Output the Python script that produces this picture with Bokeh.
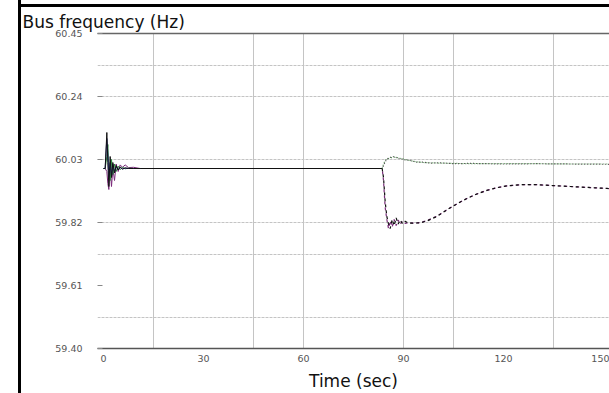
from bokeh.plotting import figure
from bokeh.models import LinearAxis, FixedTicker, Title, Range1d, PrintfTickFormatter
from bokeh.embed import file_html
from bokeh.resources import INLINE

# ---- data ----
x_ticks = [0, 30, 60, 90, 120, 150]
y_ticks = [59.40, 59.61, 59.82, 60.03, 60.24, 60.45]
x_grid = [15, 45, 60, 90, 105, 135]
y_grid = [59.505, 59.715, 59.82, 60.03, 60.24, 60.345]

# initial disturbance and steady period (sec)
t_init = [0, 0.5, 1.0, 1.3, 1.6, 2.0, 2.4, 2.8, 3.3, 3.8, 4.4, 5.0, 5.7, 6.5, 7.5, 9, 11, 83.6]
f_black_init = [60.00, 60.00, 60.12, 60.02, 59.94, 60.04, 59.97, 60.02, 59.985, 60.01, 59.995, 60.005, 59.998, 60.002, 60.0, 60.0, 60.0, 60.0]
f_green_init = [60.00, 60.00, 60.04, 60.08, 60.00, 59.96, 60.03, 59.98, 60.015, 59.99, 60.008, 59.996, 60.004, 59.999, 60.001, 60.0, 60.0, 60.0]
f_purple_init = [60.00, 60.00, 59.99, 59.95, 59.93, 60.0, 59.94, 60.0, 59.96, 60.015, 59.99, 60.012, 60.004, 60.012, 60.003, 60.004, 60.0, 60.0]
f_blue_init = [60.00, 60.00, 60.10, 60.05, 59.97, 60.02, 59.975, 60.015, 59.99, 60.005, 59.997, 60.003, 59.999, 60.001, 60.0, 60.0, 60.0, 60.0]

# second disturbance: lower branch
t_low = [83.6, 84.0, 84.5, 85.0, 85.5, 86.0, 86.6, 87.2, 87.8, 88.4, 89.0, 89.7, 90.5, 91.5, 93, 95, 97, 100, 103, 106, 109, 112, 115, 118, 121, 125, 130, 135, 140, 145, 152]
f_black_low = [60.00, 59.97, 59.89, 59.84, 59.815, 59.80, 59.83, 59.81, 59.835, 59.815, 59.828, 59.816, 59.824, 59.818, 59.818, 59.819, 59.825, 59.840, 59.862, 59.882, 59.900, 59.915, 59.927, 59.936, 59.942, 59.946, 59.946, 59.943, 59.940, 59.937, 59.933]
f_purple_low = [60.00, 59.96, 59.87, 59.83, 59.80, 59.825, 59.805, 59.83, 59.81, 59.828, 59.815, 59.824, 59.817, 59.819, 59.818, 59.820, 59.826, 59.841, 59.862, 59.882, 59.900, 59.915, 59.927, 59.936, 59.942, 59.946, 59.946, 59.943, 59.940, 59.937, 59.933]

# second disturbance: upper branch
t_up = [83.6, 84.2, 84.8, 85.5, 86.3, 87.2, 88.2, 89.3, 90.5, 92, 94, 96, 98, 101, 105, 110, 120, 130, 140, 152]
f_green_up = [60.00, 60.02, 60.03, 60.033, 60.036, 60.038, 60.036, 60.033, 60.03, 60.026, 60.022, 60.020, 60.019, 60.018, 60.017, 60.016, 60.016, 60.016, 60.015, 60.015]
f_blue_up = [60.00, 60.015, 60.028, 60.035, 60.038, 60.040, 60.035, 60.032, 60.029, 60.027, 60.021, 60.021, 60.018, 60.019, 60.016, 60.017, 60.015, 60.016, 60.015, 60.014]

# ---- figure ----
p = figure(width=609, height=393, output_backend="svg", toolbar_location=None,
           x_range=Range1d(-1.8, 151.8), y_range=Range1d(59.40, 60.45),
           min_border_left=97, min_border_right=0, min_border_top=33, min_border_bottom=45)
p.outline_line_color = None
p.background_fill_color = "white"
p.border_fill_color = None
# black left and top border strips of the reference panel, drawn as the element's background
p.styles = {
    "background-color": "white",
    "background-image": "linear-gradient(#000, #000), linear-gradient(#000, #000)",
    "background-size": "3px 393px, 591px 3px",
    "background-position": "18px 0px, 18px 4px",
    "background-repeat": "no-repeat",
}

# title
p.title = Title(text="Bus frequency (Hz)", align="left", offset=-75, standoff=4,
                text_font="DejaVu Sans", text_font_size="17px", text_font_style="normal",
                text_color="#111111")

# grids
p.xgrid.ticker = FixedTicker(ticks=x_grid)
p.xgrid.grid_line_color = "#c4c4c4"
p.ygrid.ticker = FixedTicker(ticks=y_grid)
p.ygrid.grid_line_color = "#c4c4c4"
p.ygrid.grid_line_dash = "3 1"

# x axis
xa = p.xaxis[0]
xa.ticker = FixedTicker(ticks=x_ticks)
xa.axis_line_color = "#555555"
xa.axis_line_width = 1.5
xa.major_tick_line_color = None
xa.minor_tick_line_color = None
xa.major_label_text_font = "DejaVu Sans"
xa.major_label_text_font_size = "9.5px"
xa.major_label_text_color = "#555555"
xa.major_label_standoff = 0
xa.axis_label = "Time (sec)"
xa.axis_label_text_font = "DejaVu Sans"
xa.axis_label_text_font_size = "17px"
xa.axis_label_text_font_style = "normal"
xa.axis_label_text_color = "#111111"
xa.axis_label_standoff = 6

# y axis
ya = p.yaxis[0]
ya.ticker = FixedTicker(ticks=y_ticks)
ya.formatter = PrintfTickFormatter(format="%.2f")
ya.axis_line_color = None
ya.major_tick_in = 5
ya.major_tick_out = 0
ya.major_tick_line_color = "#888888"
ya.minor_tick_line_color = None
ya.major_label_text_font = "DejaVu Sans"
ya.major_label_text_font_size = "9.5px"
ya.major_label_text_color = "#555555"
ya.major_label_standoff = 15

# top frame line
ta = LinearAxis(ticker=FixedTicker(ticks=[]), axis_line_color="#666666", axis_line_width=1.5,
                major_tick_line_color=None, minor_tick_line_color=None,
                major_label_text_color=None)
p.add_layout(ta, "above")

# series
p.line(t_init, f_purple_init, color="#7a2a7a", line_width=1)
p.line(t_init, f_green_init, color="#2e8b3e", line_width=1)
p.line(t_init, f_blue_init, color="#2b2b8a", line_width=1)
p.line(t_init, f_black_init, color="#111111", line_width=1)

p.line(t_up, f_green_up, color="#4a8a4a", line_width=1.2, line_dash="1 2")
p.line(t_up, f_blue_up, color="#555555", line_width=1.2, line_dash="1 2", line_dash_offset=1)

p.line(t_low, f_purple_low, color="#7a2a7a", line_width=1.2, line_dash="3 3", line_dash_offset=3)
p.line(t_low, f_black_low, color="#111111", line_width=1.2, line_dash="3 3")

open("out.html", "w").write(file_html(p, INLINE))
